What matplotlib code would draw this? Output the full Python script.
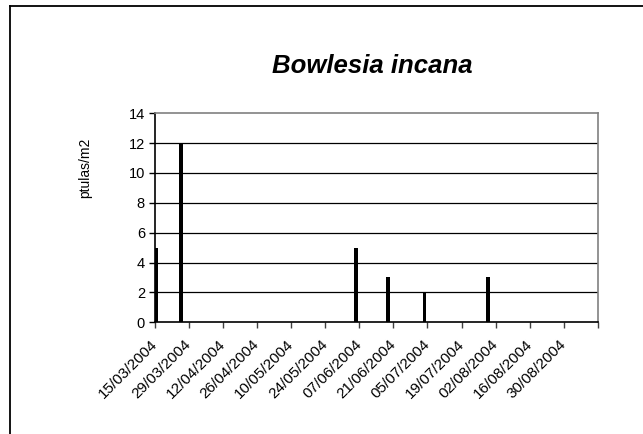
import datetime as dt
import matplotlib
matplotlib.use("Agg")
import matplotlib.pyplot as plt
from matplotlib.lines import Line2D

plt.rcParams['font.family'] = ['Liberation Sans', 'DejaVu Sans']

# muestreos con plántulas registradas
fechas = ["15/03/2004", "25/03/2004", "05/06/2004", "18/06/2004", "03/07/2004", "29/07/2004"]
plantulas = [5, 12, 5, 3, 2, 3]

inicio = dt.datetime(2004, 3, 15)
fin = dt.datetime(2004, 9, 13)

x = [dt.datetime.strptime(f, "%d/%m/%Y") for f in fechas]

fig = plt.figure(figsize=(6.43, 4.34), dpi=100)
ax = fig.add_axes([0.2406, 0.2574, 0.6894, 0.4816])

ax.bar(x, plantulas, width=1.5, align='edge', color='black', zorder=3)

ax.set_xlim(inicio, fin)
ax.set_ylim(0, 14)
ax.set_yticks(range(0, 15, 2))

ticks = [inicio + dt.timedelta(days=14 * i) for i in range(14)]
ax.set_xticks(ticks)
ax.set_xticklabels([t.strftime("%d/%m/%Y") for t in ticks[:-1]] + [""],
                   rotation=45, ha='right', va='center', rotation_mode='anchor', fontsize=11)
ax.tick_params(axis='y', labelsize=10.5, length=4, width=1, pad=3)
ax.tick_params(axis='x', length=4, width=1, pad=10, color='#404040')

for y in range(2, 14, 2):
    ax.axhline(y, color='black', lw=0.9, zorder=1)

ax.spines['top'].set_color('#808080')
ax.spines['right'].set_color('#808080')
ax.spines['left'].set_color('black')
ax.spines['bottom'].set_color('black')
for s in ax.spines.values():
    s.set_linewidth(1.2)

ax.set_ylabel("ptulas/m2", fontsize=10)
ax.yaxis.set_label_coords(-0.14, 0.738)
fig.text(0.5785, 0.832, "Bowlesia incana", ha='center', va='baseline',
         fontsize=18.5, fontweight='bold', fontstyle='italic')

# marco del gráfico
fig.add_artist(Line2D([10 / 643, 1], [1 - 6 / 434, 1 - 6 / 434], color='black', lw=1.3,
                      transform=fig.transFigure))
fig.add_artist(Line2D([10 / 643, 10 / 643], [0, 1 - 6 / 434], color='black', lw=1.3,
                      transform=fig.transFigure))

fig.savefig("out.png", dpi=100)
